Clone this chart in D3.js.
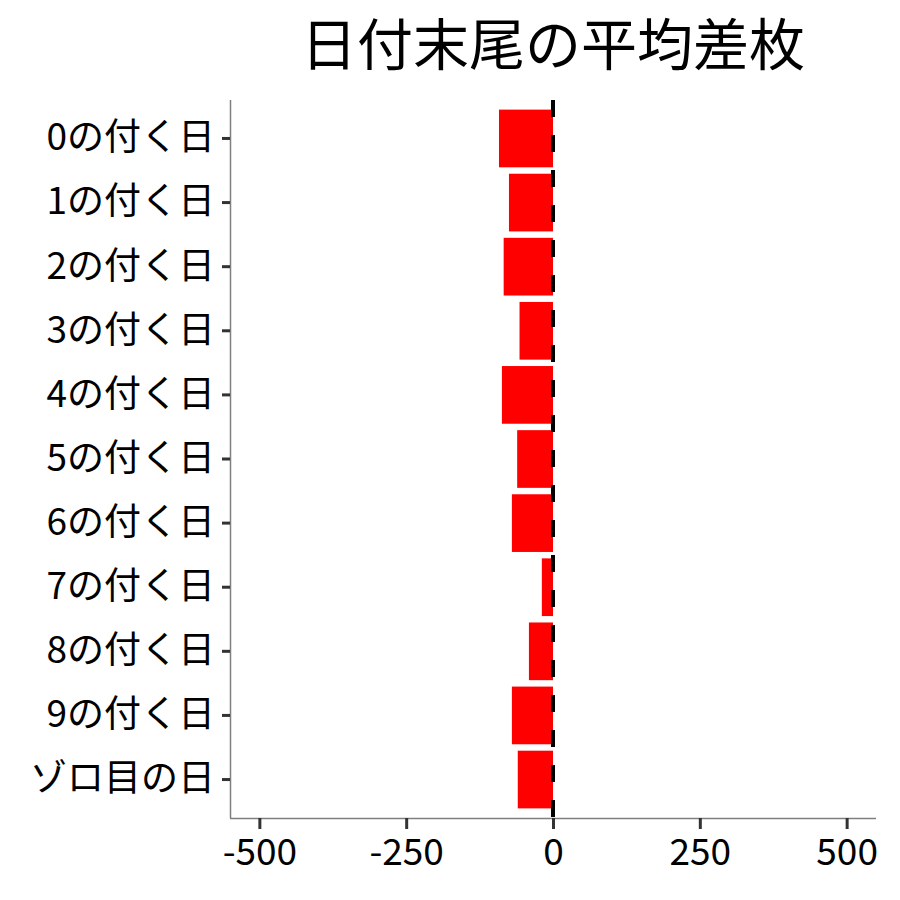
<!DOCTYPE html>
<html>
<head>
<meta charset="utf-8">
<script src="https://cdn.jsdelivr.net/npm/d3@7"></script>
<style>
  body { margin: 0; background: #fff; }
  svg text { font-family: "Noto Sans CJK JP", "Noto Sans", sans-serif; fill: #000; }
</style>
</head>
<body>
<div id="chart"></div>
<script>
const width = 900;
const height = 900;

// categories top to bottom
const days = ['0の付く日', '1の付く日', '2の付く日', '3の付く日', '4の付く日',
  '5の付く日', '6の付く日', '7の付く日', '8の付く日', '9の付く日', 'ゾロ目の日'];
// average diff per day
const avgDiff = [-92, -75, -84, -57, -87, -61, -70, -19, -41, -70, -60];
const xTicks = [-500, -250, 0, 250, 500];

const data = days.map((d, i) => ({ day: d, value: avgDiff[i] }));

const margin = { top: 100, right: 24, bottom: 82, left: 230 };

const svg = d3.select('#chart')
  .append('svg')
  .attr('width', width)
  .attr('height', height);

const xScale = d3.scaleLinear()
  .domain([-550, 550])
  .range([margin.left, width - margin.right]);

const yScale = d3.scaleBand()
  .domain(days)
  .range([margin.top, height - margin.bottom])
  .paddingInner(0.1)
  .paddingOuter(0.15);

// bars
svg.append('g')
  .selectAll('rect')
  .data(data)
  .join('rect')
  .attr('x', d => xScale(Math.min(0, d.value)))
  .attr('y', d => yScale(d.day))
  .attr('width', d => Math.abs(xScale(d.value) - xScale(0)))
  .attr('height', yScale.bandwidth())
  .attr('fill', '#ff0000');

// dashed zero line
svg.append('line')
  .attr('x1', xScale(0))
  .attr('x2', xScale(0))
  .attr('y1', margin.top)
  .attr('y2', height - margin.bottom)
  .attr('stroke', '#000')
  .attr('stroke-width', 4)
  .attr('stroke-dasharray', '17,18');

// x axis
const xAxis = svg.append('g')
  .attr('transform', `translate(0, ${height - margin.bottom})`)
  .call(d3.axisBottom(xScale).tickValues(xTicks).tickSize(11).tickPadding(5).tickFormat(d => String(d)));

// y axis
const yAxis = svg.append('g')
  .attr('transform', `translate(${margin.left}, 0)`)
  .call(d3.axisLeft(yScale).tickSize(8).tickPadding(7));

[xAxis, yAxis].forEach(ax => {
  ax.select('.domain').attr('stroke', '#7f7f7f').attr('stroke-width', 1.5);
  ax.selectAll('.tick line').attr('stroke', '#333').attr('stroke-width', 3);
  ax.selectAll('.tick text').attr('font-size', 37).attr('fill', '#000');
});
xAxis.select('.domain').attr('d', `M${margin.left},0.5H${width - margin.right}`);
yAxis.select('.domain').attr('d', `M0.5,${margin.top}V${height - margin.bottom}`);
xAxis.selectAll('.tick text').attr('dy', '0.85em');

// title
svg.append('text')
  .attr('x', (margin.left + width - margin.right) / 2)
  .attr('y', 65)
  .attr('text-anchor', 'middle')
  .attr('font-size', 56)
  .text('日付末尾の平均差枚');
</script>
</body>
</html>
